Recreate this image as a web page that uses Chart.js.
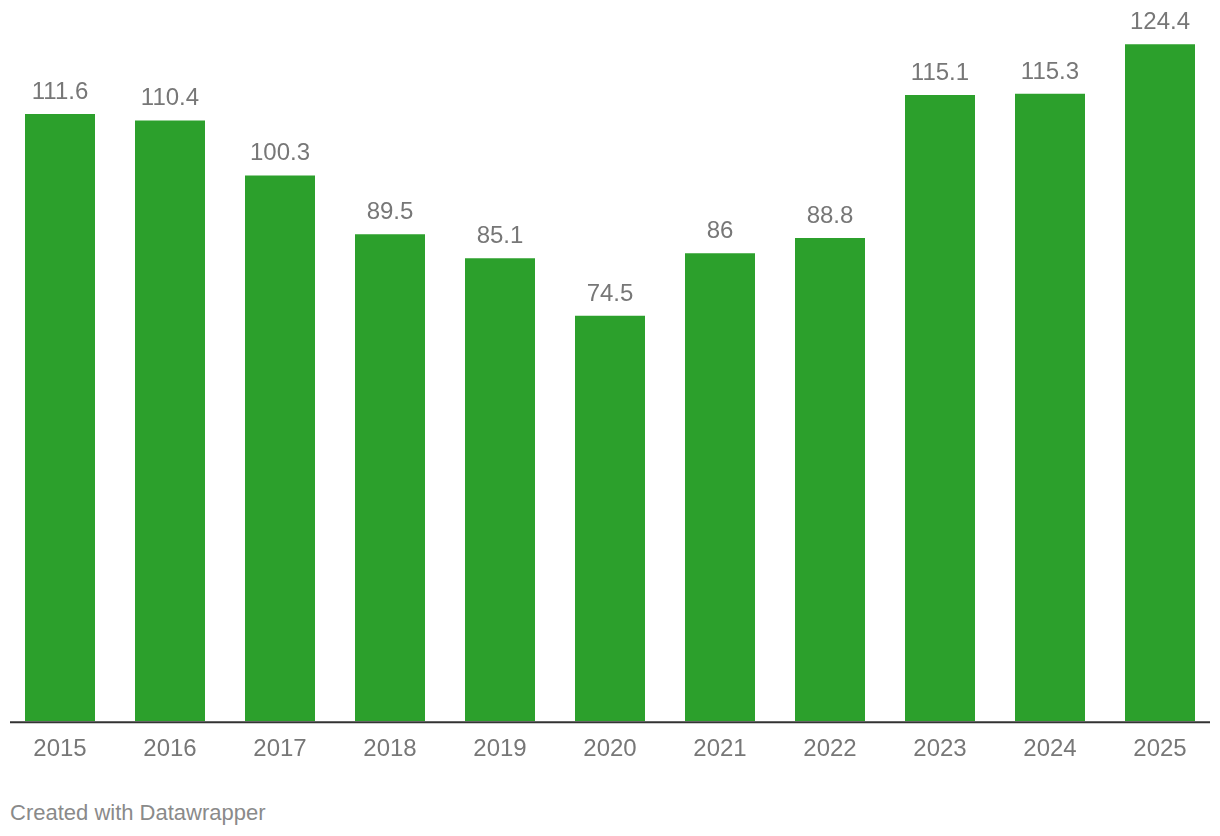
<!DOCTYPE html>
<html>
<head>
<meta charset="utf-8">
<script src="https://cdn.jsdelivr.net/npm/chart.js@4/dist/chart.umd.min.js"></script>
<style>
  html, body { margin: 0; padding: 0; background: #fff; }
  body { width: 1220px; height: 836px; position: relative; overflow: hidden; font-family: 'Liberation Sans', Arial, sans-serif; }
  #wrap { position: absolute; left: 0; top: 0; width: 1220px; height: 770px; }
  #credit { position: absolute; left: 10px; top: 799px; font-size: 22px; color: #8a8a8a; line-height: 28px; }
</style>
</head>
<body>
<div id="wrap"><canvas id="chart"></canvas></div>
<div id="credit">Created with Datawrapper</div>
<script>
// ── Data ───────────────────────────────────────────────────────────────────

const YEARS  = ['2015', '2016', '2017', '2018', '2019', '2020', '2021', '2022', '2023', '2024', '2025'];
const VALUES = [111.6, 110.4, 100.3, 89.5, 85.1, 74.5, 86, 88.8, 115.1, 115.3, 124.4];

const FONT  = "'Liberation Sans', Arial, sans-serif";
const GREEN = '#2ca02c';
const GREY  = '#777777';

// ── Plugins ────────────────────────────────────────────────────────────────

// value labels above each bar
const valueLabels = {
  id: 'valueLabels',
  afterDatasetsDraw(chart) {
    const ctx = chart.ctx;
    ctx.save();
    ctx.font = `24px ${FONT}`;
    ctx.fillStyle = GREY;
    ctx.textAlign = 'center';
    ctx.textBaseline = 'alphabetic';
    chart.getDatasetMeta(0).data.forEach((bar, i) => {
      ctx.fillText(String(VALUES[i]), bar.x, bar.y - 15);
    });
    ctx.restore();
  }
};

// baseline rule, a bit narrower than the plot area
const baseline = {
  id: 'baseline',
  afterDatasetsDraw(chart) {
    const { ctx, chartArea } = chart;
    const y = chart.scales.y.getPixelForValue(0);
    ctx.save();
    ctx.strokeStyle = '#333333';
    ctx.lineWidth = 2;
    ctx.beginPath();
    ctx.moveTo(chartArea.left + 5, y + 1);
    ctx.lineTo(chartArea.right - 5, y + 1);
    ctx.stroke();
    ctx.restore();
  }
};

// ── Chart ──────────────────────────────────────────────────────────────────

new Chart(document.getElementById('chart').getContext('2d'), {
  type: 'bar',
  data: {
    labels: YEARS,
    datasets: [{
      data: VALUES,
      backgroundColor: GREEN,
      borderWidth: 0,
      barPercentage: 70 / 110,
      categoryPercentage: 1
    }]
  },
  options: {
    responsive: true,
    maintainAspectRatio: false,
    animation: false,
    layout: { padding: { left: 5, right: 5, top: 10, bottom: 0 } },
    plugins: {
      legend: { display: false },
      tooltip: { enabled: false }
    },
    scales: {
      x: {
        grid:   { display: false },
        border: { display: false },
        ticks:  { color: GREY, font: { family: FONT, size: 24 }, padding: 6, maxRotation: 0 }
      },
      y: {
        display: false,
        min: 0,
        max: 130.7
      }
    }
  },
  plugins: [valueLabels, baseline]
});
</script>
</body>
</html>
